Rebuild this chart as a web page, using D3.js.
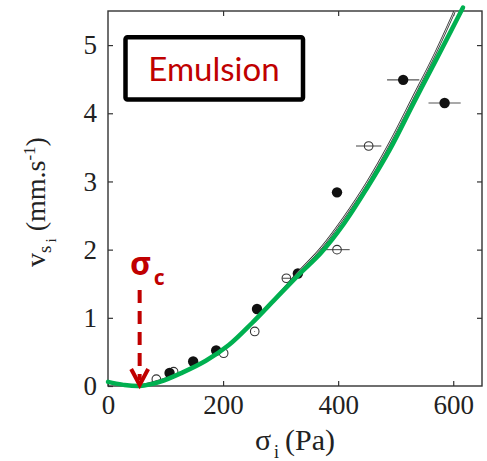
<!DOCTYPE html>
<html>
<head>
<meta charset="utf-8">
<script src="https://cdn.jsdelivr.net/npm/d3@7"></script>
<style>
  html, body { margin: 0; padding: 0; background: #fff; }
  svg { display: block; }
</style>
</head>
<body>
<svg id="chart" width="487" height="461"></svg>
<script>
// filled markers
const filledSigma = [107, 148, 188, 259, 330, 398, 513, 585];
const filledV     = [0.19, 0.36, 0.52, 1.13, 1.65, 2.84, 4.49, 4.15];
const filledErr   = [0, 0, 0, 0, 0, 0, 28, 28];

// open markers
const openSigma = [84, 114, 201, 255, 310, 398, 453];
const openV     = [0.10, 0.21, 0.48, 0.80, 1.58, 2.00, 3.52];
const openErr   = [0, 0, 0, 0.6, 7, 22, 22];

// thin black fit
const fitSigma = [55, 130, 210, 290, 330, 370, 410, 450, 490, 530, 570, 602];
const fitV     = [0, 0.2, 0.6, 1.28, 1.66, 2.02, 2.47, 2.98, 3.57, 4.23, 4.9, 5.49];

// green hand-drawn curve
const greenSigma = [0, 25, 55, 90, 130, 170, 210, 250, 290, 330, 370, 410, 450, 490, 530, 570, 617];
const greenV     = [0.06, 0.02, 0.0, 0.06, 0.2, 0.37, 0.6, 0.92, 1.27, 1.62, 1.95, 2.38, 2.9, 3.47, 4.13, 4.78, 5.55];

const xTicks = [0, 200, 400, 600];
const yTicks = [0, 1, 2, 3, 4, 5];
const sigmaC = 55;

const svg = d3.select('#chart');
const x = d3.scaleLinear().domain([0, 650]).range([108, 482]);
const y = d3.scaleLinear().domain([0, 5.5]).range([386, 11]);

const RED = '#c00000';
const GREEN = '#00b050';
const SERIF = "'Liberation Serif', 'Times New Roman', serif";

// axes, ticks pointing inward
function styleAxis(g) {
  g.select('.domain').remove();
  g.selectAll('.tick line').attr('stroke', '#333').attr('stroke-width', 1.2);
  g.selectAll('.tick text')
    .style('font-family', SERIF).style('font-size', '27px').attr('fill', '#222');
}
svg.append('g').attr('transform', `translate(0,${y(0)})`)
  .call(d3.axisBottom(x).tickValues(xTicks).tickFormat(d3.format('d'))
    .tickSize(-5).tickPadding(9).tickSizeOuter(0))
  .call(styleAxis);
svg.append('g').attr('transform', `translate(0,${y(5.5)})`)
  .call(d3.axisTop(x).tickValues(xTicks.slice(1)).tickSize(-5).tickFormat('').tickSizeOuter(0))
  .call(styleAxis);
svg.append('g').attr('transform', `translate(${x(0)},0)`)
  .call(d3.axisLeft(y).tickValues(yTicks).tickFormat(d3.format('d'))
    .tickSize(-5).tickPadding(11).tickSizeOuter(0))
  .call(styleAxis);
svg.append('g').attr('transform', `translate(${x(650)},0)`)
  .call(d3.axisRight(y).tickValues(yTicks.slice(1)).tickSize(-5).tickFormat('').tickSizeOuter(0))
  .call(styleAxis);

svg.append('rect')
  .attr('x', x(0)).attr('y', y(5.5))
  .attr('width', x(650) - x(0)).attr('height', y(0) - y(5.5))
  .attr('fill', 'none').attr('stroke', '#333').attr('stroke-width', 1.4);

// error bars
const filled = filledSigma.map((s, i) => ({ s, v: filledV[i], e: filledErr[i] }));
const open = openSigma.map((s, i) => ({ s, v: openV[i], e: openErr[i] }));

svg.append('g').selectAll('line')
  .data(filled.concat(open).filter(d => d.e > 0))
  .join('line')
  .attr('x1', d => x(d.s - d.e)).attr('x2', d => x(d.s + d.e))
  .attr('y1', d => y(d.v)).attr('y2', d => y(d.v))
  .attr('stroke', '#555').attr('stroke-width', 1.1);

svg.append('g').selectAll('circle')
  .data(open)
  .join('circle')
  .attr('cx', d => x(d.s)).attr('cy', d => y(d.v)).attr('r', 4.3)
  .attr('fill', 'none').attr('stroke', '#333').attr('stroke-width', 1.1);

svg.append('g').selectAll('circle')
  .data(filled)
  .join('circle')
  .attr('cx', d => x(d.s)).attr('cy', d => y(d.v)).attr('r', 5.2)
  .attr('fill', '#111');

// thin black fit, drawn as a hairline pair
const fitLine = d3.line().x(d => x(d[0])).y(d => y(d[1])).curve(d3.curveMonotoneX);
const fitPts = fitSigma.map((s, i) => [s, fitV[i]]);
svg.append('path').datum(fitPts).attr('d', fitLine)
  .attr('fill', 'none').attr('stroke', '#333').attr('stroke-width', 2.4);
svg.append('path').datum(fitPts).attr('d', fitLine)
  .attr('fill', 'none').attr('stroke', '#fff').attr('stroke-width', 0.8);

// green curve
const greenPts = greenSigma.map((s, i) => [s, greenV[i]]);
svg.append('path').datum(greenPts)
  .attr('d', d3.line().x(d => x(d[0])).y(d => y(d[1])).curve(d3.curveCatmullRom))
  .attr('fill', 'none').attr('stroke', GREEN).attr('stroke-width', 4.5)
  .attr('stroke-linecap', 'round');

// Emulsion box
svg.append('rect')
  .attr('x', 125.5).attr('y', 37.2).attr('width', 177.5).attr('height', 62.3).attr('rx', 2)
  .attr('fill', '#fff').attr('stroke', '#000').attr('stroke-width', 4.5);
svg.append('text')
  .attr('x', 214).attr('y', 81).attr('text-anchor', 'middle')
  .attr('font-family', 'Lato, "Open Sans", sans-serif').attr('font-size', 33)
  .attr('fill', RED).text('Emulsion');

// sigma_c arrow
svg.append('line')
  .attr('x1', x(sigmaC)).attr('x2', x(sigmaC))
  .attr('y1', 290).attr('y2', y(0) - 6)
  .attr('stroke', RED).attr('stroke-width', 4).attr('stroke-dasharray', '13,8');
svg.append('path')
  .attr('d', `M${x(sigmaC) - 8.5},${y(0) - 17}L${x(sigmaC)},${y(0) - 1}L${x(sigmaC) + 8.5},${y(0) - 17}`)
  .attr('fill', 'none').attr('stroke', RED).attr('stroke-width', 4);
const sc = svg.append('text')
  .attr('x', 130).attr('y', 275)
  .attr('font-family', '"Noto Sans", "Open Sans", sans-serif').attr('font-weight', 'bold')
  .attr('font-size', 33).attr('fill', RED);
sc.append('tspan').text('σ');
sc.append('tspan').attr('font-size', 21).attr('dy', 10).attr('dx', 2).text('c');

// axis labels
const xl = svg.append('text').style('font-family', SERIF)
  .attr('x', 295).attr('y', 450).attr('text-anchor', 'middle')
  .attr('font-size', 30).attr('fill', '#222');
xl.append('tspan').text('σ');
xl.append('tspan').attr('font-size', 18).attr('dy', 8).attr('dx', 3).text('i');
xl.append('tspan').attr('dy', -8).attr('dx', 6).text('(Pa)');

const yl = svg.append('text').style('font-family', SERIF)
  .attr('transform', 'translate(45,202) rotate(-90)').attr('text-anchor', 'middle')
  .attr('font-size', 28).attr('fill', '#222');
yl.append('tspan').text('v');
yl.append('tspan').attr('font-size', 19).attr('dy', 6).text('s');
yl.append('tspan').attr('font-size', 15).attr('dy', 5).attr('dx', 3).text('i');
yl.append('tspan').attr('dy', -11).attr('dx', 7).text('(mm.s');
yl.append('tspan').attr('font-size', 17).attr('dy', -10).text('-1');
yl.append('tspan').attr('dy', 10).text(')');
</script>
</body>
</html>
